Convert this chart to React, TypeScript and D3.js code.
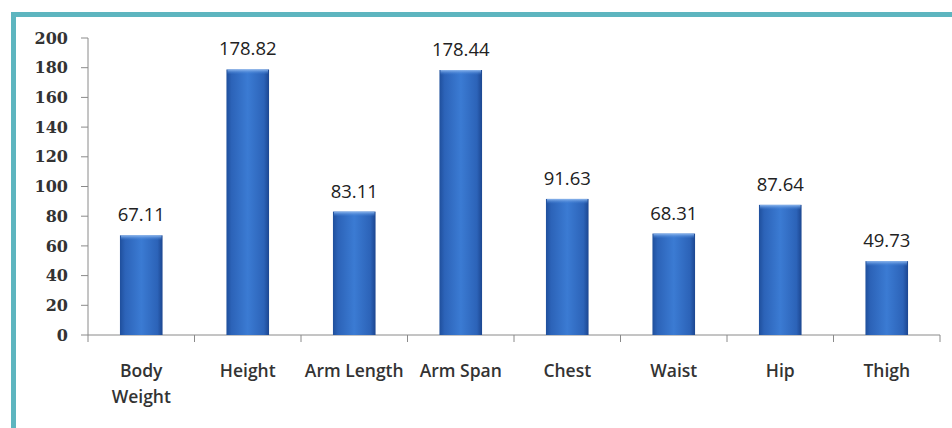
import React from "react";
import * as d3 from "d3";

// Bar chart of average body measurements, Excel-like styling.
const categories = ["Body Weight", "Height", "Arm Length", "Arm Span", "Chest", "Waist", "Hip", "Thigh"];
const values = [67.11, 178.82, 83.11, 178.44, 91.63, 68.31, 87.64, 49.73];
const yTicks = [0, 20, 40, 60, 80, 100, 120, 140, 160, 180, 200];

const W = 952;
const H = 428;
const margin = { top: 38, right: 12, bottom: 93, left: 88 };

export default function App() {
  const innerW = W - margin.left - margin.right;
  const innerH = H - margin.top - margin.bottom;

  const x = d3.scaleBand<string>().domain(categories).range([0, innerW]).paddingInner(0.6).paddingOuter(0.3);
  const y = d3.scaleLinear().domain([0, 200]).range([innerH, 0]);
  const step = x.step();
  const start = x(categories[0])! - step * 0.3;
  const boundaries = d3.range(categories.length + 1).map((i) => start + i * step);

  return (
    <div style={{ position: "fixed", left: 0, top: 0 }}>
      <svg width={W} height={H} style={{ display: "block", background: "#fff" }}>
        <defs>
          <linearGradient id="barGrad" x1="0" x2="1" y1="0" y2="0">
            <stop offset="0%" stopColor="#1f4f9c" />
            <stop offset="12%" stopColor="#2c63b8" />
            <stop offset="50%" stopColor="#3b7bd3" />
            <stop offset="88%" stopColor="#2c63b8" />
            <stop offset="100%" stopColor="#1c4690" />
          </linearGradient>
          <linearGradient id="capGrad" x1="0" x2="0" y1="0" y2="1">
            <stop offset="0%" stopColor="#8fb8ee" />
            <stop offset="100%" stopColor="#3b7bd3" stopOpacity="0" />
          </linearGradient>
        </defs>

        {/* teal frame */}
        <path d={`M13.5,${H + 10} L13.5,14.5 L${W + 10},14.5`} fill="none" stroke="#5db5bf" strokeWidth={5} />

        <g transform={`translate(${margin.left},${margin.top})`}>
          {/* y axis */}
          <line x1={0} x2={0} y1={0} y2={innerH} stroke="#8a8a8a" />
          {yTicks.map((t) => (
            <g key={t} transform={`translate(0,${y(t)})`}>
              <line x1={-7} x2={0} stroke="#8a8a8a" />
              <text
                x={-20}
                dy="0.35em"
                textAnchor="end"
                fontFamily="'DejaVu Serif', 'Liberation Serif', serif"
                fontWeight="bold"
                fontSize={16}
                fill="#333"
              >
                {t}
              </text>
            </g>
          ))}

          {/* x axis */}
          <line x1={start} x2={boundaries[boundaries.length - 1]} y1={innerH} y2={innerH} stroke="#8a8a8a" />
          {boundaries.map((b, i) => (
            <line key={i} x1={b} x2={b} y1={innerH} y2={innerH + 7} stroke="#8a8a8a" />
          ))}

          {/* bars */}
          {categories.map((c, i) => {
            const bx = x(c)!;
            const bw = x.bandwidth();
            const by = y(values[i]);
            return (
              <g key={c}>
                <rect x={bx} y={by} width={bw} height={innerH - by} fill="url(#barGrad)" />
                <rect x={bx + 1} y={by} width={bw - 2} height={5} fill="url(#capGrad)" />
                <text
                  x={bx + bw / 2}
                  y={by - 14}
                  textAnchor="middle"
                  fontFamily="'Open Sans', sans-serif"
                  fontSize={18.5}
                  fill="#222"
                >
                  {values[i].toFixed(2)}
                </text>
              </g>
            );
          })}

          {/* category labels */}
          {categories.map((c) => {
            const lines = c === "Body Weight" ? ["Body", "Weight"] : [c];
            return (
              <text
                key={c}
                x={x(c)! + x.bandwidth() / 2}
                y={innerH + 42}
                textAnchor="middle"
                fontFamily="'Open Sans', sans-serif"
                fontWeight={600}
                fontSize={17.5}
                fill="#333"
              >
                {lines.map((l, j) => (
                  <tspan key={l} x={x(c)! + x.bandwidth() / 2} dy={j === 0 ? 0 : 26}>
                    {l}
                  </tspan>
                ))}
              </text>
            );
          })}
        </g>
      </svg>
    </div>
  );
}
